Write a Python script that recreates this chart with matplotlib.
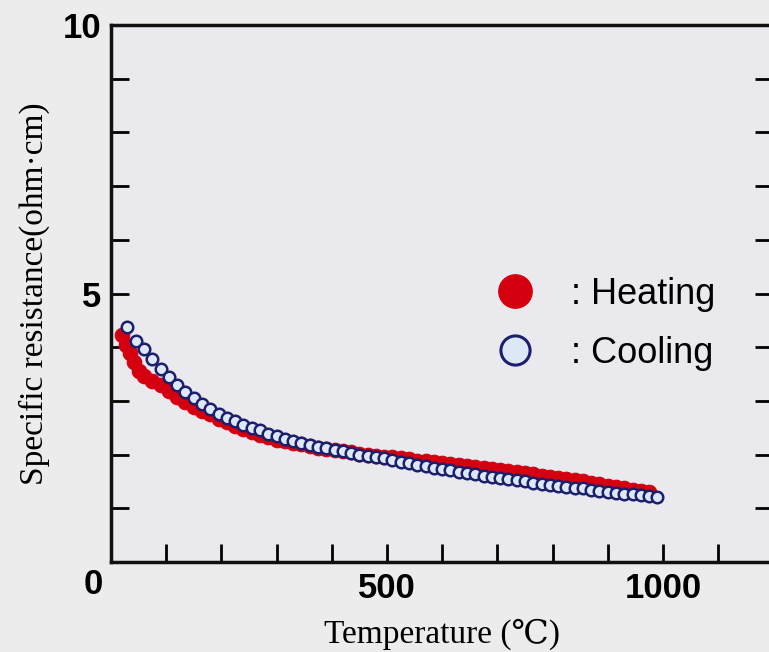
import matplotlib.pyplot as plt
from matplotlib.ticker import MultipleLocator, FixedLocator

# Heating run: temperature (C) and specific resistance (ohm.cm)
heat_temp = [20, 27, 35, 42, 50, 60, 75, 90, 105, 120, 135, 150, 165, 180, 195,
             210, 225, 240, 255, 270, 285, 300, 315, 330, 345, 360, 375, 390, 405,
             420, 435, 450, 465, 480, 495, 510, 525, 540, 555, 570, 585, 600, 615,
             630, 645, 660, 675, 690, 705, 720, 735, 750, 765, 780, 795, 810, 825,
             840, 855, 870, 885, 900, 915, 930, 945, 960, 975]
heat_res = [4.22, 4.05, 3.90, 3.72, 3.56, 3.47, 3.38, 3.29, 3.18, 3.07, 2.98, 2.89,
            2.81, 2.75, 2.67, 2.60, 2.53, 2.47, 2.42, 2.37, 2.32, 2.28, 2.25, 2.22,
            2.19, 2.16, 2.13, 2.10, 2.08, 2.06, 2.04, 2.02, 2.00, 1.98, 1.96, 1.95,
            1.93, 1.91, 1.89, 1.88, 1.86, 1.85, 1.83, 1.81, 1.79, 1.77, 1.75, 1.73,
            1.71, 1.69, 1.67, 1.65, 1.63, 1.61, 1.59, 1.57, 1.55, 1.52, 1.50, 1.48,
            1.45, 1.42, 1.40, 1.37, 1.35, 1.33, 1.31]

# Cooling run
cool_temp = [29, 45, 60, 75, 90, 105, 120, 135, 150, 165, 180, 195, 210, 225, 240,
             255, 270, 285, 300, 315, 330, 345, 360, 375, 390, 405, 420, 435, 450,
             465, 480, 495, 510, 525, 540, 555, 570, 585, 600, 615, 630, 645, 660,
             675, 690, 705, 720, 735, 750, 765, 780, 795, 810, 825, 840, 855, 870,
             885, 900, 915, 930, 945, 960, 975, 990]
cool_res = [4.37, 4.12, 3.96, 3.78, 3.59, 3.44, 3.30, 3.16, 3.05, 2.95, 2.85, 2.76,
            2.69, 2.62, 2.56, 2.50, 2.45, 2.39, 2.34, 2.30, 2.26, 2.22, 2.18, 2.15,
            2.12, 2.09, 2.06, 2.03, 2.00, 1.98, 1.95, 1.93, 1.90, 1.87, 1.84, 1.81,
            1.78, 1.76, 1.73, 1.71, 1.68, 1.66, 1.63, 1.61, 1.59, 1.57, 1.54, 1.52,
            1.50, 1.48, 1.46, 1.44, 1.42, 1.40, 1.38, 1.37, 1.35, 1.33, 1.31, 1.29,
            1.27, 1.26, 1.24, 1.23, 1.21]

x_major = [500, 1000]
y_major = [5, 10]

red = "#d40010"
navy = "#1c1f6b"
pale = "#dde8f6"
sans = ["Liberation Sans", "DejaVu Sans"]
sans_bold = {"family": sans, "weight": "bold", "size": 25}
serif = ["Liberation Serif", "DejaVu Serif", "DejaVu Sans"]

fig = plt.figure(figsize=(7.69, 6.52), dpi=100, facecolor="#ececec")
ax = fig.add_axes([0.1443, 0.138, 0.8614, 0.8236], facecolor="#eaeaee")

ax.plot(heat_temp, heat_res, "o", ms=10.5, mfc=red, mec=red, mew=0.8, zorder=3)
ax.plot(cool_temp, cool_res, "o", ms=8.3, mfc=pale, mec=navy, mew=1.8, zorder=4)

ax.set_xlim(0, 1200)
ax.set_ylim(0, 10)

ax.xaxis.set_major_locator(FixedLocator(x_major))
ax.xaxis.set_minor_locator(MultipleLocator(100))
ax.yaxis.set_major_locator(FixedLocator(y_major))
ax.yaxis.set_minor_locator(MultipleLocator(1))
ax.tick_params(which="both", direction="in", length=13, width=2, color="black",
               right=True, top=False, pad=7)
ax.set_xticklabels([str(v) for v in x_major], fontdict=sans_bold)
ax.set_yticklabels([str(v) for v in y_major], fontdict=sans_bold)
ax.text(-33, -0.42, "0", ha="center", va="center", fontdict=sans_bold, clip_on=False)

for side in ax.spines.values():
    side.set_linewidth(2.5)
    side.set_color("#111111")

ax.set_xlabel("Temperature (\u2103)", family=serif, fontsize=24, labelpad=10)
ax.set_ylabel("Specific resistance(ohm\u00b7cm)", family=serif, fontsize=24, labelpad=9)

# key drawn inside the plot area
ax.plot([732], [5.05], "o", ms=24, mfc=red, mec=red, zorder=5)
ax.plot([732], [3.95], "o", ms=21, mfc=pale, mec=navy, mew=2.2, zorder=5)
ax.text(833, 4.98, ": Heating", fontsize=26, family=sans, va="center", ha="left")
ax.text(833, 3.88, ": Cooling", fontsize=26, family=sans, va="center", ha="left")

fig.savefig("out.png", dpi=100, facecolor=fig.get_facecolor())
plt.close("all")
